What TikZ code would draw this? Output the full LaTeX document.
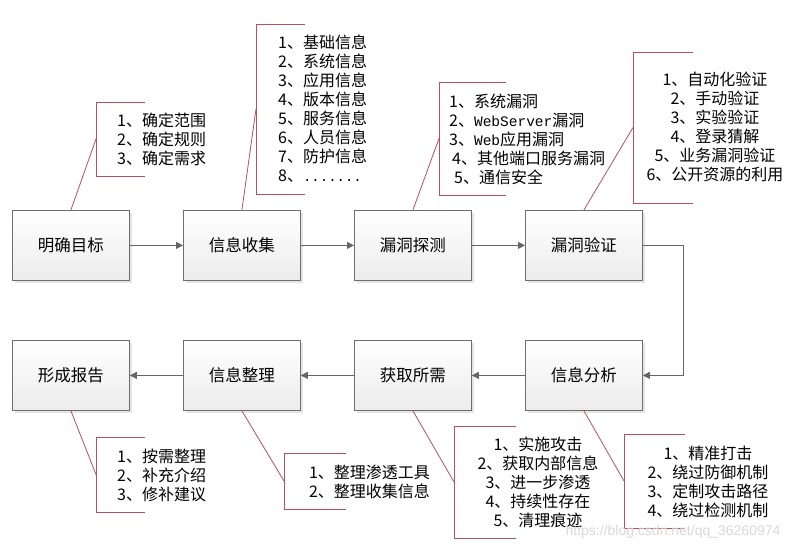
\documentclass[tikz,border=0pt]{standalone}
\usepackage{fontspec}
\setmainfont{Noto Sans CJK SC}
\newfontfamily\monofont{Liberation Mono}
\newfontfamily\wmfont{Liberation Sans}
\usetikzlibrary{arrows.meta,shadows}
\definecolor{calred}{HTML}{B5505F}
\definecolor{boxgray}{HTML}{6E6E6E}
\definecolor{flowgray}{HTML}{666666}
\begin{document}
\begin{tikzpicture}[x=1pt,y=-1pt,
  stage/.style={draw=boxgray, line width=0.8pt, top color=white, bottom color=gray!15,
    minimum width=117pt, minimum height=70pt, inner sep=0pt, anchor=north west,
    font=\fontsize{16.5}{19}\selectfont,
    general shadow={fill=gray!20, shadow xshift=2.5pt, shadow yshift=-2.5pt}},
  flow/.style={draw=flowgray, line width=0.8pt, -{Triangle[length=7pt,width=7pt]}},
  calline/.style={draw=calred, line width=0.8pt},
  calbox/.style={inner sep=0pt, outer sep=0pt, anchor=north west},
  caltext/.style={inner sep=0pt, font=\fontsize{16}{19}\selectfont}
]
\useasboundingbox[fill=white] (0,0) rectangle (808,551);

% stages
\node[stage] (a1) at (12,210) {明确目标};
\node[stage] (a2) at (183,210) {信息收集};
\node[stage] (a3) at (354,210) {漏洞探测};
\node[stage] (a4) at (525,210) {漏洞验证};
\node[stage] (b4) at (12,340) {形成报告};
\node[stage] (b3) at (183,340) {信息整理};
\node[stage] (b2) at (354,340) {获取所需};
\node[stage] (b1) at (525,340) {信息分析};

% flow arrows
\draw[flow] (a1) -- (a2);
\draw[flow] (a2) -- (a3);
\draw[flow] (a3) -- (a4);
\draw[flow] (a4.east) -- ++(41,0) |- (b1.east);
\draw[flow] (b1) -- (b2);
\draw[flow] (b2) -- (b3);
\draw[flow] (b3) -- (b4);

% callout brackets
\node[calbox, minimum width=49pt, minimum height=74pt] (k1) at (96,102) {};
\node[calbox, minimum width=49pt, minimum height=170pt] (k2) at (256,24) {};
\node[calbox, minimum width=67pt, minimum height=113pt] (k3) at (439,82) {};
\node[calbox, minimum width=60pt, minimum height=151pt] (k4) at (633,52) {};
\node[calbox, minimum width=49pt, minimum height=75pt] (k5) at (96,437) {};
\node[calbox, minimum width=62pt, minimum height=56pt] (k6) at (284,453) {};
\node[calbox, minimum width=62pt, minimum height=112pt] (k7) at (454,426) {};
\node[calbox, minimum width=61pt, minimum height=94pt] (k8) at (624,434) {};
\foreach \k in {k1,k2,k3,k4,k5,k6,k7,k8}{
  \draw[calline] (\k.north east) -- (\k.north west) -- (\k.south west) -- (\k.south east);
}
\draw[calline] (a1.north) -- (k1.west);
\draw[calline] (a2.north) -- (k2.west);
\draw[calline] (a3.north) -- (k3.west);
\draw[calline] (a4.north) -- (k4.west);
\draw[calline] (b4.south) -- (k5.west);
\draw[calline] (b3.south) -- (k6.west);
\draw[calline] (b2.south) -- (k7.west);
\draw[calline] (b1.south) -- (k8.west);

% callout texts
\node[caltext, anchor=west, align=left] (t1) at (117,139) {1、确定范围\\2、确定规则\\3、确定需求};
\node[caltext, anchor=west, align=left] (t2) at (278,109) {1、基础信息\\2、系统信息\\3、应用信息\\4、版本信息\\5、服务信息\\6、人员信息\\7、防护信息\\8、{\monofont\fontsize{14}{19}\selectfont .......}};
\node[caltext, anchor=west, align=left] (t3) at (449,139) {1、系统漏洞\\2、{\monofont\fontsize{14.5}{19}\selectfont WebServer}漏洞\\3、{\monofont\fontsize{14.5}{19}\selectfont Web}应用漏洞\\\hspace{3pt}4、其他端口服务漏洞\\\hspace{5pt}5、通信安全};
\node[caltext, align=center] (t4) at (715,126.5) {1、自动化验证\\2、手动验证\\3、实验验证\\4、登录猜解\\5、业务漏洞验证\\6、公开资源的利用};
\node[caltext, anchor=west, align=left] (t5) at (117,475) {1、按需整理\\2、补充介绍\\3、修补建议};
\node[caltext, align=center] (t6) at (369.5,481.5) {1、整理渗透工具\\2、整理收集信息};
\node[caltext, align=center] (t7) at (538,482) {1、实施攻击\\2、获取内部信息\\3、进一步渗透\\4、持续性存在\\5、清理痕迹};
\node[caltext, align=center] (t8) at (708,482) {1、精准打击\\2、绕过防御机制\\3、定制攻击路径\\4、绕过检测机制};

% watermark
\node[inner sep=0pt, text=gray!30, font=\wmfont\fontsize{14}{16}\selectfont] (wm) at (673,532) {https://blog.csdn.net/qq\_36260974};
\end{tikzpicture}
\end{document}
